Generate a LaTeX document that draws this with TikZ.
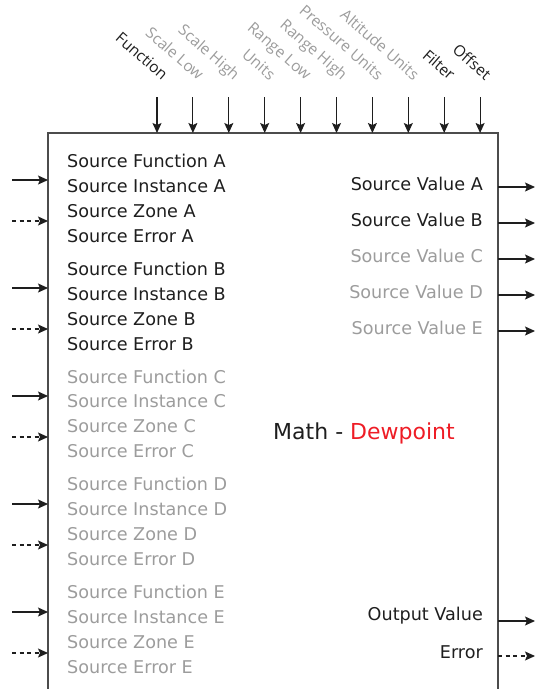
\documentclass[tikz,border=0pt]{standalone}
\usepackage{fontspec}
\setmainfont{DejaVu Sans}
\newfontfamily\topfont{Open Sans}
\usetikzlibrary{arrows.meta}
\definecolor{dk}{HTML}{1E1E1E}
\definecolor{gr}{HTML}{9C9C9C}
\definecolor{rd}{HTML}{EE1C25}
\tikzset{
  lbl/.style={font=\fontsize{17.6}{20}\selectfont, inner sep=0pt},
  toplbl/.style={font=\topfont\fontsize{15.5}{17}\selectfont, inner sep=0pt, rotate=-41, anchor=base east},
  arr/.style={draw=dk, line width=1.1pt, -{Stealth[length=10pt,width=9pt,inset=2pt]}},
  darr/.style={arr, dash pattern=on 4pt off 3.5pt},
}
\begin{document}
\begin{tikzpicture}[x=1pt,y=-1pt]
\useasboundingbox (0,0) rectangle (541,689);
\coordinate (bl) at (48,689);
\coordinate (tl) at (48,133);
\coordinate (tr) at (498,133);
\coordinate (br) at (498,689);
\draw[draw=black!70, line width=1.2pt] (bl) -- (tl) -- (tr) -- (br);
% top inputs
\foreach \i/\t/\c in {0/Function/dk,1/Scale Low/gr,2/Scale High/gr,3/Units/gr,4/Range Low/gr,5/Range High/gr,6/Pressure Units/gr,7/Altitude Units/gr,8/Filter/dk,9/Offset/dk}{
  \coordinate (ts\i) at ({157+35.9*\i},97);
  \coordinate (te\i) at ({157+35.9*\i},133);
  \draw[arr] (ts\i) -- (te\i);
  \node[toplbl, text=\c] (tl\i) at ({162+35.9*\i},81) {\t};
}
% left inputs
\foreach \g/\L/\c in {0/A/dk,1/B/dk,2/C/gr,3/D/gr,4/E/gr}{
  \coordinate (ls\g) at (12,{180+108*\g});
  \coordinate (le\g) at (48,{180+108*\g});
  \draw[arr] (ls\g) -- (le\g);
  \coordinate (ds\g) at (12,{221+108*\g});
  \coordinate (de\g) at (48,{221+108*\g});
  \draw[darr] (ds\g) -- (de\g);
  \node[lbl, anchor=west, text=\c] (sf\g) at (67,{161+107.75*\g}) {Source Function \L};
  \node[lbl, anchor=west, text=\c] (si\g) at (67,{186+107.75*\g}) {Source Instance \L};
  \node[lbl, anchor=west, text=\c] (sz\g) at (67,{211+107.75*\g}) {Source Zone \L};
  \node[lbl, anchor=west, text=\c] (se\g) at (67,{236+107.75*\g}) {Source Error \L};
}
% right outputs
\foreach \g/\L/\c in {0/A/dk,1/B/dk,2/C/gr,3/D/gr,4/E/gr}{
  \node[lbl, anchor=east, text=\c] (sv\g) at (483,{184+36*\g}) {Source Value \L};
  \coordinate (os\g) at (498,{187+36*\g});
  \coordinate (oe\g) at (535,{187+36*\g});
  \draw[arr] (os\g) -- (oe\g);
}
\node[lbl, anchor=east, text=dk] (ov) at (483,616) {Output Value};
\coordinate (ovs) at (498,621);
\coordinate (ove) at (535,621);
\draw[arr] (ovs) -- (ove);
\node[lbl, anchor=east, text=dk] (er) at (483,652) {Error};
\coordinate (ers) at (498,656);
\coordinate (ere) at (535,656);
\draw[darr] (ers) -- (ere);
% title
\node[font=\fontsize{22}{26}\selectfont, inner sep=0pt] (title) at (364,433) {\textcolor{dk}{Math - }\textcolor{rd}{Dewpoint}};
\end{tikzpicture}
\end{document}
